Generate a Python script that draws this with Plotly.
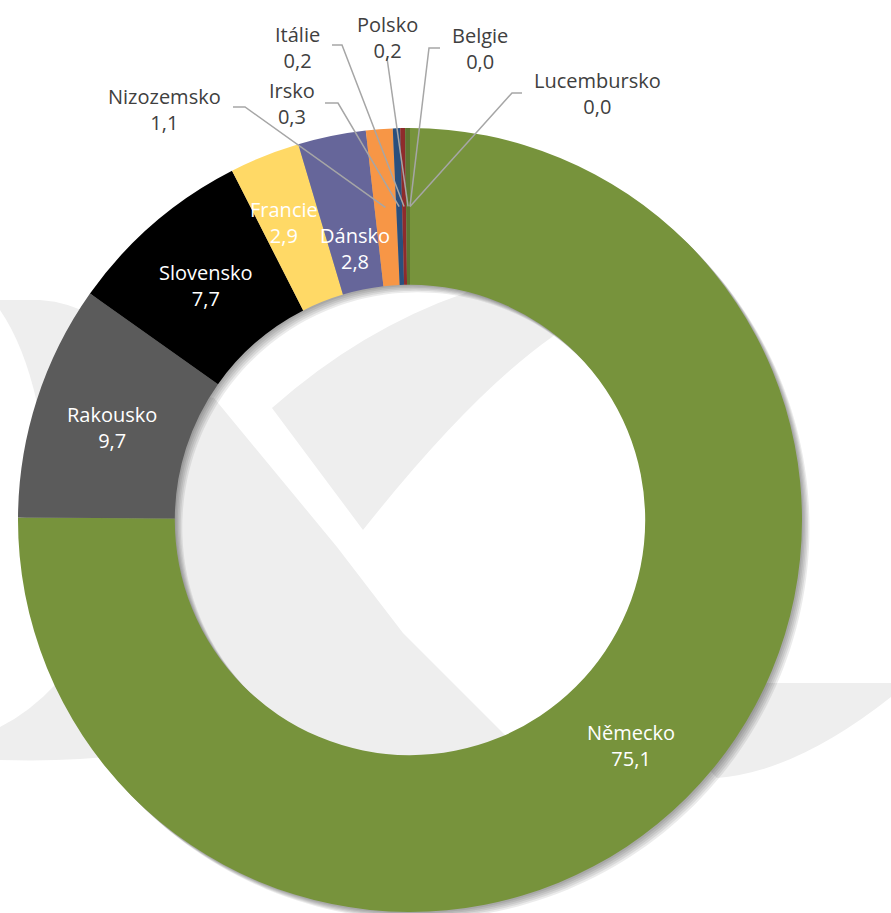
import numpy as np
import plotly.graph_objects as go

# ---------------- data ----------------
countries = ["Německo", "Rakousko", "Slovensko", "Francie", "Dánsko", "Nizozemsko",
             "Irsko", "Itálie", "Polsko", "Belgie", "Lucembursko"]
shares = [75.1, 9.7, 7.7, 2.9, 2.8, 1.1, 0.3, 0.2, 0.2, 0.0, 0.0]
value_text = ["75,1", "9,7", "7,7", "2,9", "2,8", "1,1", "0,3", "0,2", "0,2", "0,0", "0,0"]

# ---------------- style ----------------
colors = ["#77933C", "#5B5B5B", "#000000", "#FFD966", "#66669A", "#F79646",
          "#2A4F7D", "#8E2B2B", "#5E7530", "#4F81BD", "#9BBB59"]
FONT = "Open Sans"
FS = 20
W, H = 891, 913
CX, CY, R = 410, 520, 392
HOLE = 0.6
R_MID = R * (1 + HOLE) / 2

# inside labels: index -> (radius factor, xshift, yshift)
inside_style = {0: (1.0, 0, -3), 1: (1.0, 1, -3), 2: (1.0, 1, -3), 3: (1.0, -10, 6), 4: (1.0, 8, -36)}
# outside labels: index -> (text centre, leader start, leader elbow)
outside_style = {
    5: ((164, 110), (233, 107), (245, 107)),
    6: ((292, 104), (325, 103), (338, 103)),
    7: ((297, 47), (332, 45), (342, 45)),
    8: ((387, 38), (387, 58), (387, 58)),
    9: ((480, 49), (440, 48), (429, 48)),
    10: ((597, 94), (522, 93), (512, 93)),
}


def P(x, y):
    return f"{x / W:.5f},{1 - y / H:.5f}"


def to_path(cmds):
    out = []
    for cmd, pts in cmds:
        if cmd == "Z":
            out.append("Z")
        elif cmd in ("M", "L"):
            for x, y in pts:
                out.append(cmd + P(x, y))
        else:
            out.append(cmd + " ".join(P(x, y) for x, y in pts))
    return " ".join(out)


def circle(cx, cy, r, n=240):
    a = np.linspace(0, 2 * np.pi, n, endpoint=False)
    pts = list(zip(cx + r * np.cos(a), cy + r * np.sin(a)))
    return [("M", [pts[0]]), ("L", pts[1:]), ("Z", [])]


shapes = []
WM = "#EEEEEE"
# --- background watermark ---
wm_paths = [
    # left upper piece
    [("M", [(0, 300)]), ("L", [(40, 300)]), ("Q", [(70, 302), (98, 318)]),
     ("L", [(60, 425)]), ("L", [(37, 403)]), ("Q", [(24, 345), (0, 310)]), ("Z", [])],
    # left lower piece
    [("M", [(0, 727)]), ("Q", [(30, 712), (56, 684)]), ("L", [(130, 700)]),
     ("L", [(125, 755)]), ("Q", [(70, 762), (0, 760)]), ("Z", [])],
    # right crescent
    [("M", [(760, 683)]), ("L", [(891, 683)]), ("L", [(891, 697)]),
     ("Q", [(796, 772), (717, 778)]), ("L", [(700, 760)]), ("Z", [])],
    # hole: lower-left region
    [("M", [(214, 398)]), ("L", [(337, 547)]), ("L", [(403, 633)]), ("L", [(503, 733)]),
     ("L", [(540, 770)]), ("L", [(300, 820)]), ("L", [(130, 620)]), ("L", [(160, 390)]), ("Z", [])],
    # hole: upper wedge of the check
    [("M", [(272, 408)]), ("Q", [(361, 329), (465, 293)]), ("L", [(520, 250)]),
     ("L", [(600, 290)]), ("L", [(552, 337)]), ("Q", [(470, 395), (363, 530)]), ("Z", [])],
]
for p in wm_paths:
    shapes.append(dict(type="path", xref="paper", yref="paper", path=to_path(p),
                       fillcolor=WM, line=dict(width=0), layer="below"))

# --- soft drop shadow of the ring ---
r_in = R * HOLE
for d in [1.5, 3.0, 4.5, 6.0, 7.5]:
    outer = circle(CX + d, CY + d, R)
    inner = circle(CX + d, CY + d, r_in)
    shapes.append(dict(type="path", xref="paper", yref="paper",
                       path=to_path(outer) + " " + to_path(inner),
                       fillcolor="rgba(0,0,0,0.08)", line=dict(width=0), layer="below"))

# --- slice geometry from data ---
vals = np.array(shares, dtype=float)
cum = np.cumsum(vals)
mid_frac = (cum - vals / 2) / vals.sum()
theta = 2 * np.pi * mid_frac


def slice_point(i, r):
    return CX + r * np.sin(theta[i]), CY - r * np.cos(theta[i])


annotations = []
for i, (rf, xs, ys) in inside_style.items():
    x, y = slice_point(i, R_MID * rf)
    annotations.append(dict(x=x / W, y=1 - y / H, xref="paper", yref="paper",
                            text=f"{countries[i]}<br>{value_text[i]}", showarrow=False,
                            xanchor="center", yanchor="middle", xshift=xs, yshift=ys,
                            font=dict(family=FONT, size=FS, color="white")))

for i, (tc, st, el) in outside_style.items():
    ex, ey = slice_point(i, R_MID)
    pts = [st, el, (ex, ey)]
    shapes.append(dict(type="path", xref="paper", yref="paper", layer="above",
                       path=to_path([("M", [pts[0]]), ("L", pts[1:])]),
                       line=dict(color="#A6A6A6", width=1.5)))
    annotations.append(dict(x=tc[0] / W, y=1 - tc[1] / H, xref="paper", yref="paper",
                            text=f"{countries[i]}<br>{value_text[i]}", showarrow=False,
                            xanchor="center", yanchor="middle",
                            font=dict(family=FONT, size=FS, color="#404040")))

fig = go.Figure(go.Pie(
    labels=countries, values=shares, hole=HOLE, sort=False, direction="clockwise",
    rotation=0, marker=dict(colors=colors, line=dict(width=0)), textinfo="none",
    domain=dict(x=[(CX - R) / W, (CX + R) / W], y=[(H - CY - R) / H, (H - CY + R) / H]),
    showlegend=False,
))
fig.update_layout(width=W, height=H, margin=dict(l=0, r=0, t=0, b=0),
                  paper_bgcolor="white", plot_bgcolor="white",
                  shapes=shapes, annotations=annotations, showlegend=False)
fig.write_html("out.html", config={"displayModeBar": False},
               post_script="document.body.style.margin='0px';")
